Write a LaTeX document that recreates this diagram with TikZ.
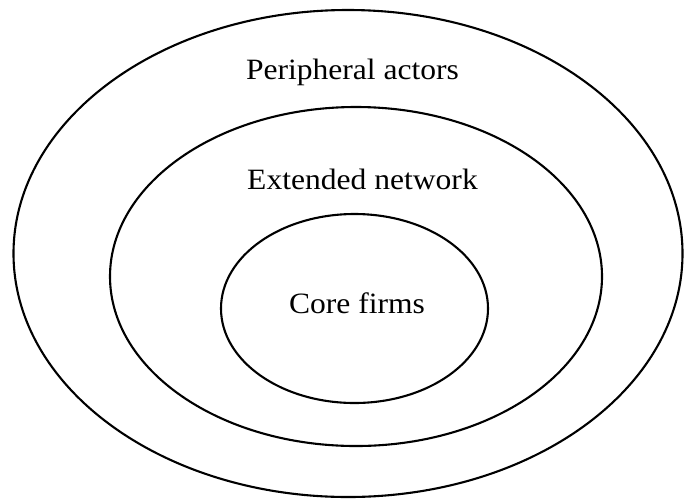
\documentclass[tikz,border=0pt]{standalone}
\usepackage{fontspec}
\setmainfont{Liberation Serif}
\begin{document}
\begin{tikzpicture}[x=1pt,y=-1pt,
  ring/.style={draw=black,line width=2.1pt},
  label/.style={anchor=base,inner sep=0pt,font=\fontsize{29.5}{35}\selectfont}]
\useasboundingbox (0,0) rectangle (684,499);
% nested circles of the network
\draw[ring] (348,253.5) ellipse [x radius=334.5, y radius=243.5];
\draw[ring] (356,276.5) ellipse [x radius=246, y radius=169.5];
\draw[ring] (354.5,308.5) ellipse [x radius=133.5, y radius=94.5];
% ring labels
\node[label] (peri) at (352.5,79) {\scalebox{1.07}[1]{Peripheral actors}};
\node[label] (ext) at (362.5,189) {\scalebox{1.07}[1]{Extended network}};
\node[label] (core) at (357,313) {\scalebox{1.07}[1]{Core firms}};
\end{tikzpicture}
\end{document}
